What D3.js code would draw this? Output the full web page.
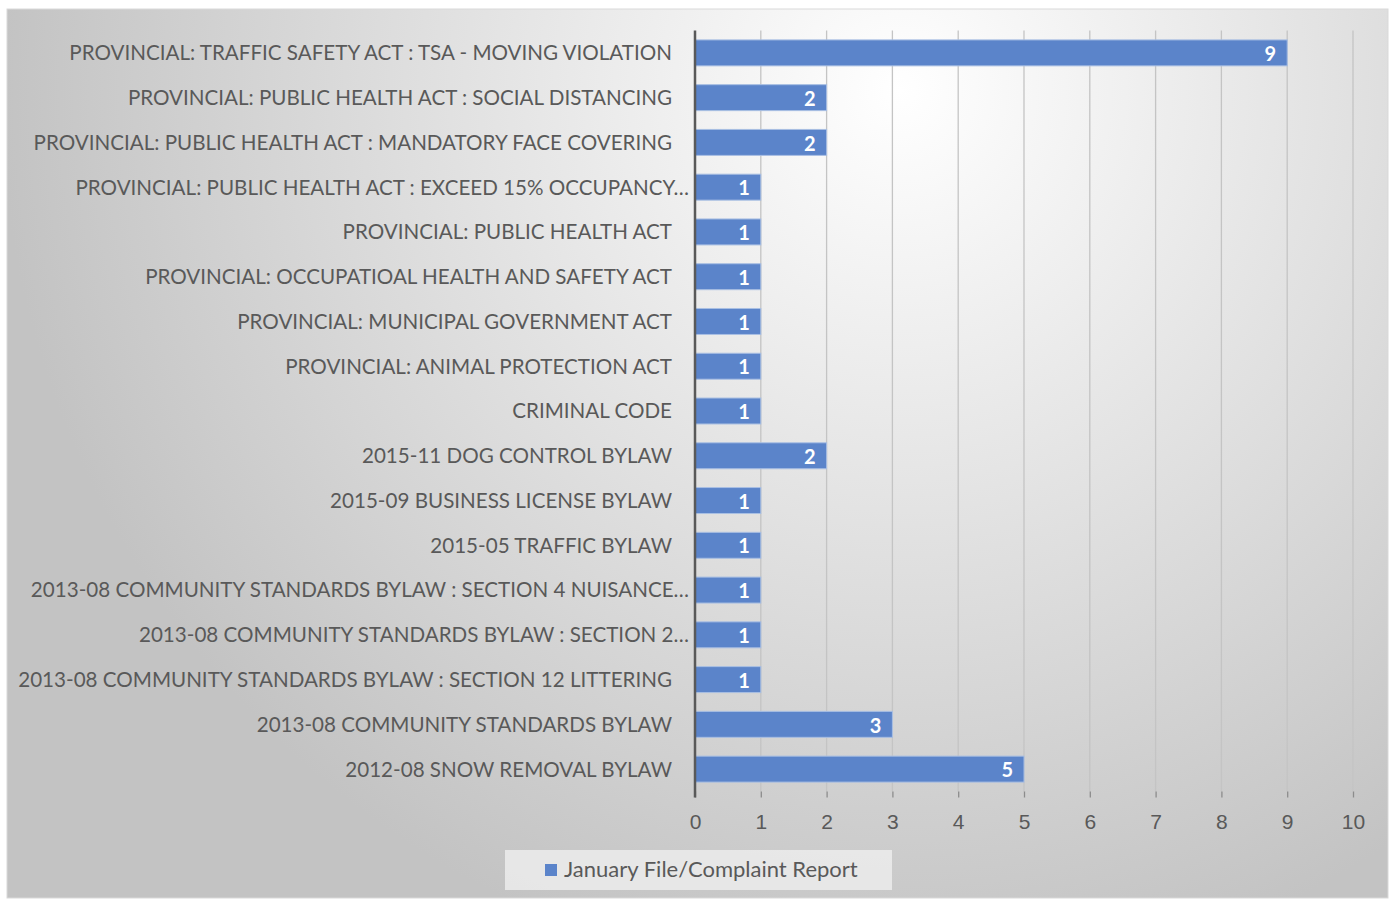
<!DOCTYPE html>
<html lang="en">
<head>
<meta charset="utf-8">
<title>January File/Complaint Report</title>
<script src="https://d3js.org/d3.v7.min.js"></script>
<style>
  body { margin: 0; background: #fff; }
  svg { font-family: 'Lato', 'Open Sans', sans-serif; display: block; }
  .tick text { fill: #595959; }
</style>
</head>
<body>
<div id="chart"></div>
<script>
// categories, top to bottom
var categories = [
  "PROVINCIAL: TRAFFIC SAFETY ACT : TSA - MOVING VIOLATION",
  "PROVINCIAL: PUBLIC HEALTH ACT : SOCIAL DISTANCING",
  "PROVINCIAL: PUBLIC HEALTH ACT : MANDATORY FACE COVERING",
  "PROVINCIAL: PUBLIC HEALTH ACT : EXCEED 15% OCCUPANCY…",
  "PROVINCIAL: PUBLIC HEALTH ACT",
  "PROVINCIAL: OCCUPATIOAL HEALTH AND SAFETY ACT",
  "PROVINCIAL: MUNICIPAL GOVERNMENT ACT",
  "PROVINCIAL: ANIMAL PROTECTION ACT",
  "CRIMINAL CODE",
  "2015-11 DOG CONTROL BYLAW",
  "2015-09 BUSINESS LICENSE BYLAW",
  "2015-05 TRAFFIC BYLAW",
  "2013-08 COMMUNITY STANDARDS BYLAW : SECTION 4 NUISANCE…",
  "2013-08 COMMUNITY STANDARDS BYLAW : SECTION 2…",
  "2013-08 COMMUNITY STANDARDS BYLAW : SECTION 12 LITTERING",
  "2013-08 COMMUNITY STANDARDS BYLAW",
  "2012-08 SNOW REMOVAL BYLAW"
];
var counts = [9, 2, 2, 1, 1, 1, 1, 1, 1, 2, 1, 1, 1, 1, 1, 3, 5];
var xTicks = [0, 1, 2, 3, 4, 5, 6, 7, 8, 9, 10];
var seriesName = "January File/Complaint Report";

var W = 1391, H = 899;
var plot = {left: 695, right: 1353, top: 30.5, bottom: 791.5};
var barColor = "#5b84ca";

var svg = d3.select("#chart").append("svg")
  .attr("width", W).attr("height", H);

// background gradient like the office chart style
var defs = svg.append("defs");
var grad = defs.append("radialGradient")
  .attr("id", "bg")
  .attr("gradientUnits", "userSpaceOnUse")
  .attr("cx", 900).attr("cy", 90).attr("r", 900);
grad.append("stop").attr("offset", "0%").attr("stop-color", "#ffffff");
grad.append("stop").attr("offset", "100%").attr("stop-color", "#c3c3c3");

svg.append("rect").attr("x", 0).attr("y", 0).attr("width", W).attr("height", H)
  .attr("fill", "#fff");
svg.append("rect").attr("x", 7).attr("y", 9).attr("width", 1381).attr("height", 889)
  .attr("fill", "url(#bg)").attr("stroke", "#d9d9d9");

var x = d3.scaleLinear().domain([0, 10]).range([plot.left, plot.right]);
var y = d3.scaleBand().domain(categories).range([plot.top, plot.bottom]).paddingInner(0.42).paddingOuter(0.21);

// gridlines
svg.append("g").selectAll("line")
  .data(xTicks.slice(1))
  .join("line")
  .attr("x1", d => x(d)).attr("x2", d => x(d))
  .attr("y1", plot.top).attr("y2", plot.bottom)
  .attr("stroke", "#c4c4c4").attr("stroke-width", 1.3);

// x axis
var xAxis = svg.append("g")
  .attr("transform", "translate(0," + plot.bottom + ")")
  .call(d3.axisBottom(x).tickValues(xTicks).tickSize(6).tickPadding(17).tickFormat(d3.format("d")));
xAxis.select(".domain").remove();
xAxis.selectAll(".tick line").attr("stroke", "#8c8c8c").attr("stroke-width", 1.3);
xAxis.selectAll(".tick text").attr("font-size", 21).attr("fill", "#595959");

// bars
svg.append("g").selectAll("rect")
  .data(categories)
  .join("rect")
  .attr("x", x(0))
  .attr("y", d => y(d))
  .attr("width", (d, i) => x(counts[i]) - x(0))
  .attr("height", y.bandwidth())
  .attr("fill", barColor)
  .attr("stroke", "#a9bfe3")
  .attr("stroke-width", 1);

// value labels
svg.append("g").selectAll("text")
  .data(categories)
  .join("text")
  .attr("x", (d, i) => x(counts[i]) - 11)
  .attr("y", d => y(d) + y.bandwidth() / 2 + 1)
  .attr("dy", "0.36em")
  .attr("text-anchor", "end")
  .attr("font-size", 20)
  .attr("font-weight", "bold")
  .attr("fill", "#fff")
  .text((d, i) => counts[i]);

// vertical axis line
svg.append("line")
  .attr("x1", x(0)).attr("x2", x(0))
  .attr("y1", plot.top).attr("y2", plot.bottom + 6)
  .attr("stroke", "#595959").attr("stroke-width", 2.5);

// category labels
svg.append("g").selectAll("text")
  .data(categories)
  .join("text")
  .attr("x", d => d.endsWith("…") ? 689 : 672)
  .attr("y", d => y(d) + y.bandwidth() / 2)
  .attr("dy", "0.36em")
  .attr("text-anchor", "end")
  .attr("font-size", 20.6)
  .attr("fill", "#595959")
  .text(d => d);

// legend
var lg = svg.append("g");
lg.append("rect").attr("x", 505).attr("y", 850).attr("width", 387).attr("height", 40)
  .attr("fill", "#ececec").attr("opacity", 0.85);
lg.append("rect").attr("x", 545).attr("y", 864).attr("width", 12).attr("height", 12)
  .attr("fill", barColor);
lg.append("text").attr("x", 564).attr("y", 869).attr("dy", "0.36em")
  .attr("font-size", 22).attr("fill", "#595959").text(seriesName);
</script>
</body>
</html>
